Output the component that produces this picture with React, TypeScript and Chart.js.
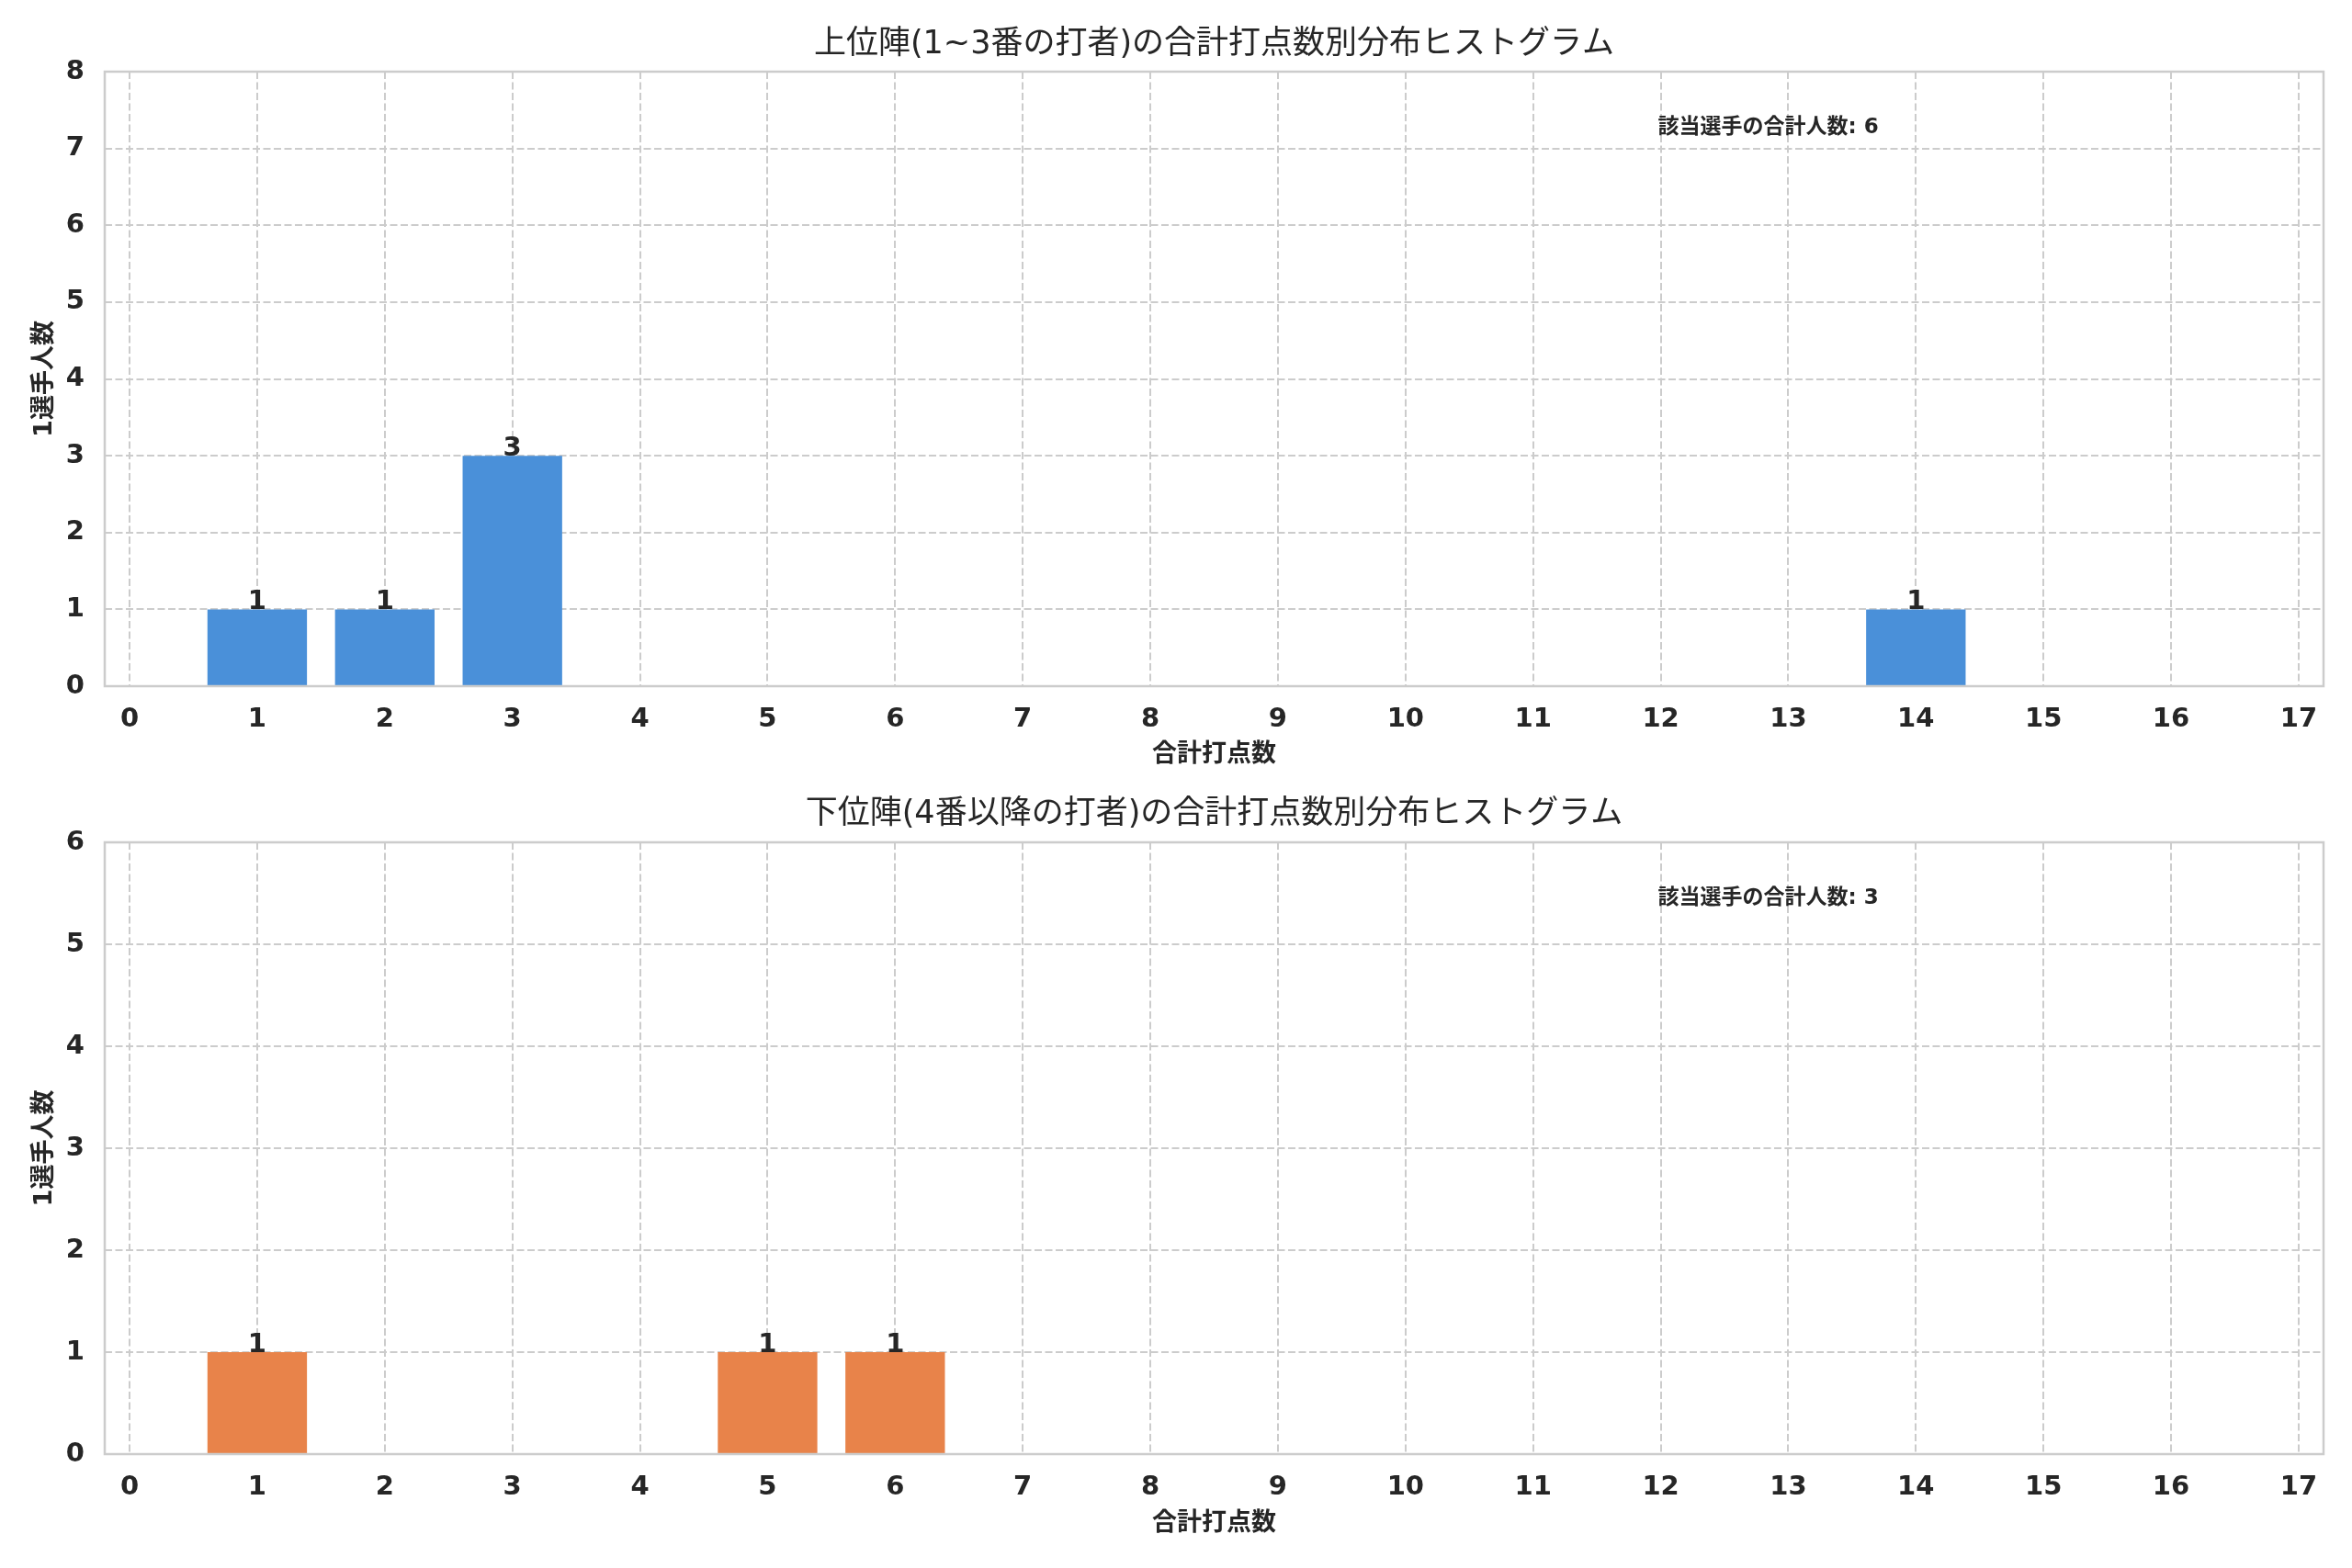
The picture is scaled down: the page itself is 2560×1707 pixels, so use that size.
import { useEffect, useRef } from "react";
import { Chart, registerables } from "chart.js";

Chart.register(...registerables);

const FONT = "'DejaVu Sans', 'Noto Sans CJK JP', sans-serif";
const TEXT = "#262626";
const GRID = "#cccccc";

// data
const xValues = [0, 1, 2, 3, 4, 5, 6, 7, 8, 9, 10, 11, 12, 13, 14, 15, 16, 17];
const upperCounts = [0, 1, 1, 3, 0, 0, 0, 0, 0, 0, 0, 0, 0, 0, 1, 0, 0, 0];
const lowerCounts = [0, 1, 0, 0, 0, 1, 1, 0, 0, 0, 0, 0, 0, 0, 0, 0, 0, 0];
const upperYMax = 8;
const lowerYMax = 6;

const upperTitle = "上位陣(1~3番の打者)の合計打点数別分布ヒストグラム";
const lowerTitle = "下位陣(4番以降の打者)の合計打点数別分布ヒストグラム";
const xLabel = "合計打点数";
const yLabel = "1選手人数";
const totalLabel = "該当選手の合計人数";

type Geometry = {
  top: number;
  height: number;
  plotTop: number;
  plotBottom: number;
  titleY: number;
  xTitleY: number;
};

type PanelProps = {
  title: string;
  counts: number[];
  yMax: number;
  color: string;
  geo: Geometry;
};

function Panel({ title, counts, yMax, color, geo }: PanelProps) {
  const canvasRef = useRef<HTMLCanvasElement>(null);

  useEffect(() => {
    if (!canvasRef.current) return;
    const total = counts.reduce((a, b) => a + b, 0);

    const decor = {
      id: "decor",
      afterDatasetsDraw(chart: Chart) {
        const { ctx, chartArea: a } = chart;
        ctx.save();
        // frame
        ctx.strokeStyle = GRID;
        ctx.lineWidth = 2.5;
        ctx.strokeRect(a.left, a.top, a.right - a.left, a.bottom - a.top);

        // value labels
        ctx.fillStyle = TEXT;
        ctx.font = `bold 29px ${FONT}`;
        ctx.textAlign = "center";
        ctx.textBaseline = "alphabetic";
        const meta = chart.getDatasetMeta(0);
        meta.data.forEach((bar: any, i: number) => {
          if (counts[i] > 0) ctx.fillText(String(counts[i]), bar.x, bar.y);
        });

        // total annotation
        ctx.font = `bold 23px ${FONT}`;
        ctx.textAlign = "left";
        const tx = a.left + (a.right - a.left) * 0.7;
        const ty = a.bottom - (a.bottom - a.top) * 0.9;
        ctx.fillText(`${totalLabel}: ${total}`, tx, ty);

        // title
        ctx.font = `35px ${FONT}`;
        ctx.textAlign = "center";
        ctx.textBaseline = "middle";
        ctx.fillText(title, (a.left + a.right) / 2, geo.titleY);
        ctx.restore();
      },
    };

    const chart = new Chart(canvasRef.current, {
      type: "bar",
      data: {
        datasets: [
          {
            data: xValues.map((x, i) => ({ x, y: counts[i] })),
            backgroundColor: color,
            borderWidth: 0,
            barPercentage: 0.78,
            categoryPercentage: 1,
          },
        ],
      },
      options: {
        responsive: true,
        maintainAspectRatio: false,
        animation: false,
        events: [],
        layout: { padding: { top: geo.plotTop, left: 0, right: 31, bottom: 0 } },
        plugins: {
          legend: { display: false },
          tooltip: { enabled: false },
          title: { display: false },
        },
        scales: {
          x: {
            type: "linear",
            min: -0.195,
            max: 17.195,
            offset: false,
            afterBuildTicks: (axis: any) => {
              axis.ticks = xValues.map((v) => ({ value: v }));
            },
            afterFit: (axis: any) => {
              axis.height = geo.height - geo.plotBottom;
            },
            grid: { color: GRID, lineWidth: 2, drawTicks: false, tickLength: 0, offset: false },
            border: { display: false, dash: [8, 3.5] },
            ticks: {
              color: TEXT,
              font: { family: FONT, size: 29, weight: "bold" },
              padding: 19,
              maxRotation: 0,
              autoSkip: false,
            },
            title: {
              display: true,
              text: xLabel,
              color: TEXT,
              font: { family: FONT, size: 27, weight: "bold" },
              padding: { top: 0, bottom: geo.height - geo.xTitleY - 16 },
            },
          },
          y: {
            min: 0,
            max: yMax,
            afterFit: (axis: any) => {
              axis.width = 114;
            },
            grid: { color: GRID, lineWidth: 2, drawTicks: false, tickLength: 0 },
            border: { display: false, dash: [8, 3.5] },
            ticks: {
              stepSize: 1,
              color: TEXT,
              font: { family: FONT, size: 29, weight: "bold" },
              padding: 22,
            },
            title: {
              display: true,
              text: yLabel,
              color: TEXT,
              font: { family: FONT, size: 27, weight: "bold" },
              padding: { top: 33, bottom: 0 },
            },
          },
        },
      },
      plugins: [decor],
    });

    return () => {
      chart.destroy();
    };
  }, [title, counts, yMax, color, geo]);

  return (
    <div
      style={{
        position: "absolute",
        left: 0,
        top: geo.top,
        width: 2560,
        height: geo.height,
      }}
    >
      <canvas ref={canvasRef} />
    </div>
  );
}

const upperGeo: Geometry = { top: 0, height: 853, plotTop: 78, plotBottom: 747, titleY: 49, xTitleY: 822 };
const lowerGeo: Geometry = { top: 853, height: 854, plotTop: 64, plotBottom: 730, titleY: 34, xTitleY: 806 };

export default function App() {
  return (
    <div
      style={{
        position: "absolute",
        left: 0,
        top: 0,
        width: 2560,
        height: 1707,
        background: "#ffffff",
      }}
    >
      <Panel title={upperTitle} counts={upperCounts} yMax={upperYMax} color="#4a90d9" geo={upperGeo} />
      <Panel title={lowerTitle} counts={lowerCounts} yMax={lowerYMax} color="#e8834a" geo={lowerGeo} />
    </div>
  );
}
